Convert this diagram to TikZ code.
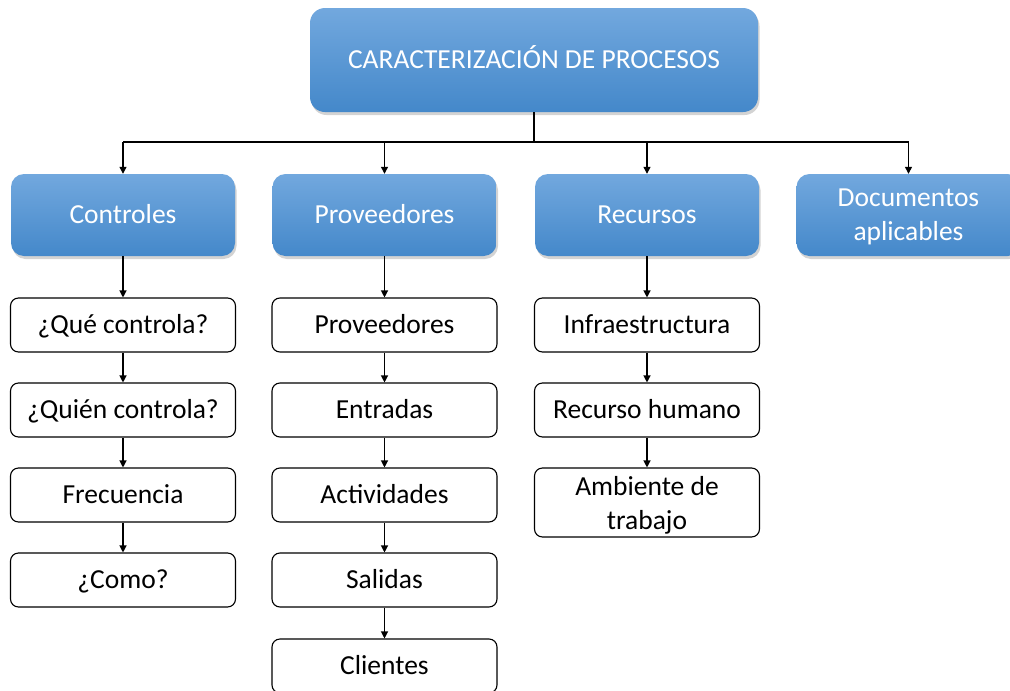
\documentclass[tikz,border=0pt]{standalone}
\usepackage{fontspec}
\setmainfont{Carlito}
\usetikzlibrary{arrows.meta,shadows}
\definecolor{btop}{HTML}{72A8DE}
\definecolor{bbot}{HTML}{4488CA}
\begin{document}
\begin{tikzpicture}[x=1pt,y=-1pt,
  bluebox/.style={rounded corners=13pt, top color=btop, bottom color=bbot, draw=none,
    text=white, inner sep=0pt, align=center, minimum width=224pt, minimum height=82pt,
    font=\fontsize{27.5}{34}\selectfont,
    drop shadow={opacity=0.35, shadow xshift=1.5pt, shadow yshift=-3pt}},
  wbox/.style={draw=black, line width=1.1pt, rounded corners=8pt, fill=white,
    inner sep=0pt, align=center, minimum width=225pt, minimum height=54pt,
    font=\fontsize{27.5}{34}\selectfont},
  sl/.style={text height=19pt, text depth=2pt},
  ml/.style={text depth=0pt},
  arr/.style={-{Triangle[length=7pt,width=7pt]}, line width=1.2pt},
  ln/.style={line width=1.2pt}
]
\useasboundingbox (0,0) rectangle (1010,691);
\clip (0,0) rectangle (1010,691);

\node[bluebox, sl, minimum width=448pt, minimum height=104pt, rounded corners=15pt] (top) at (534,60) {CARACTERIZACIÓN DE PROCESOS};

\node[bluebox, sl] (c1) at (123,215) {Controles};
\node[bluebox, sl] (c2) at (384.5,215) {Proveedores};
\node[bluebox, sl] (c3) at (647,215) {Recursos};
\node[bluebox, ml] (c4) at (908.5,215) {Documentos\\aplicables};

\coordinate (bus) at (534,142);
\draw[ln] (top.south) -- (bus);
\draw[ln] (c1 |- bus) -- (c4 |- bus);
\foreach \n in {c1,c2,c3,c4} \draw[arr] (\n |- bus) -- (\n.north);

% column 1
\node[wbox, sl] (a1) at (123,325) {¿Qué controla?};
\node[wbox, sl] (a2) at (123,410) {¿Quién controla?};
\node[wbox, sl] (a3) at (123,495) {Frecuencia};
\node[wbox, sl] (a4) at (123,580) {¿Como?};
\draw[arr] (c1.south) -- (a1.north);
\draw[arr] (a1.south) -- (a2.north);
\draw[arr] (a2.south) -- (a3.north);
\draw[arr] (a3.south) -- (a4.north);

% column 2
\node[wbox, sl] (b1) at (384.5,325) {Proveedores};
\node[wbox, sl] (b2) at (384.5,410) {Entradas};
\node[wbox, sl] (b3) at (384.5,495) {Actividades};
\node[wbox, sl] (b4) at (384.5,580) {Salidas};
\node[wbox, sl] (b5) at (384.5,666) {Clientes};
\draw[arr] (c2.south) -- (b1.north);
\draw[arr] (b1.south) -- (b2.north);
\draw[arr] (b2.south) -- (b3.north);
\draw[arr] (b3.south) -- (b4.north);
\draw[arr] (b4.south) -- (b5.north);

% column 3
\node[wbox, sl] (r1) at (647,325) {Infraestructura};
\node[wbox, sl] (r2) at (647,410) {Recurso humano};
\node[wbox, ml, minimum height=69pt] (r3) at (647,502.5) {Ambiente de\\trabajo};
\draw[arr] (c3.south) -- (r1.north);
\draw[arr] (r1.south) -- (r2.north);
\draw[arr] (r2.south) -- (r3.north);
\end{tikzpicture}
\end{document}
